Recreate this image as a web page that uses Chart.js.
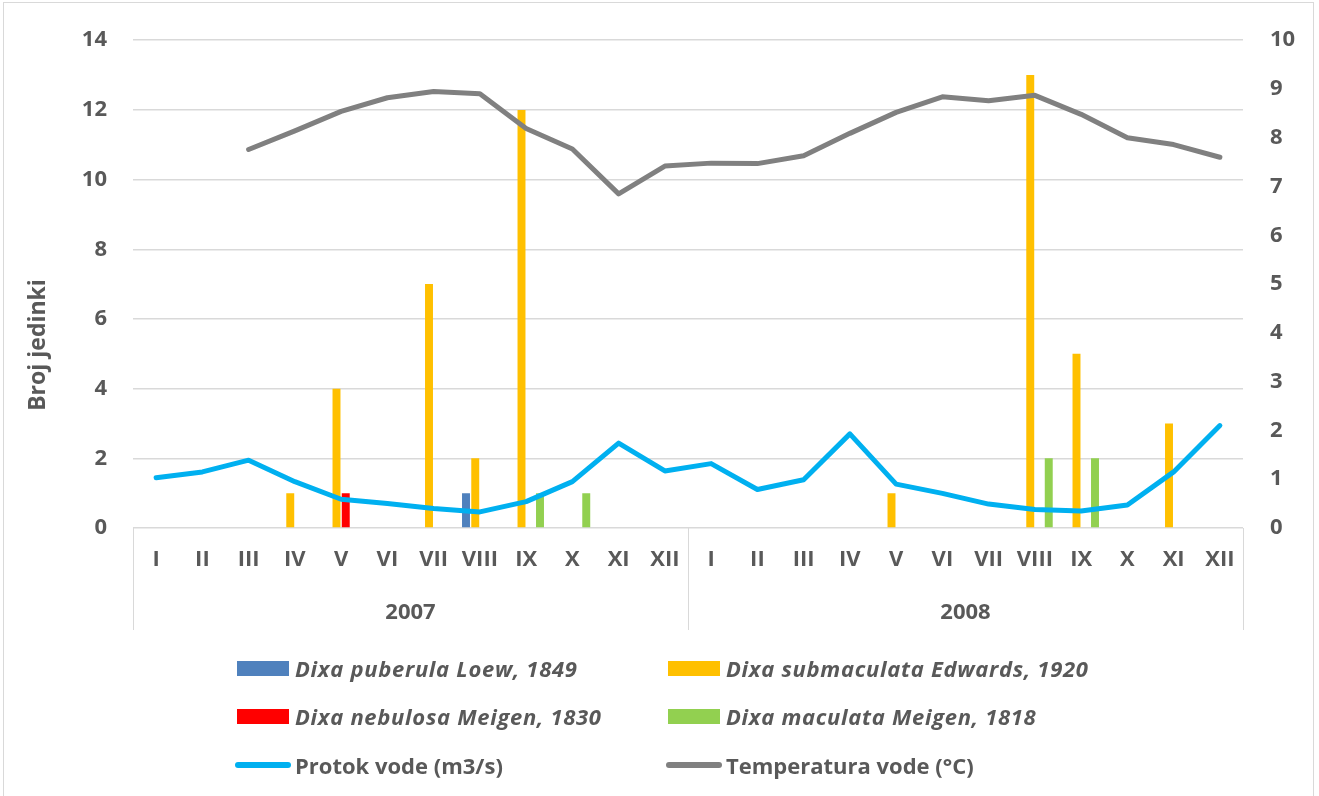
<!DOCTYPE html>
<html>
<head>
<meta charset="utf-8">
<script src="https://cdn.jsdelivr.net/npm/chart.js@4.4.1/dist/chart.umd.min.js"></script>
<style>
    body { margin: 0; background: #fff; }
    #wrap { position: relative; width: 1319px; height: 796px; font-family: 'Open Sans', sans-serif; overflow: hidden; }
    #frame { position: absolute; left: 3px; top: 2px; width: 1309px; height: 800px; border: 1px solid #d9d9d9; pointer-events: none; }
    canvas { position: absolute; left: 0; top: 0; }
    .leg { position: absolute; display: flex; align-items: center; color: #595959; font-weight: bold; font-size: 22px; white-space: nowrap; height: 30px; }
    .leg i { font-style: italic; letter-spacing: 0.7px; }
    .sw { width: 52px; height: 15px; margin-right: 6px; }
    .ln { width: 56px; height: 6px; border-radius: 3px; margin-right: 4px; }
</style>
</head>
<body>
<div id="wrap">
    <canvas id="chartDixa" width="1319" height="796"></canvas>
    <div id="frame"></div>
    <div id="legenda"></div>
</div>
<script>
// Podaci očitani s grafikona
const mjeseci = ['I', 'II', 'III', 'IV', 'V', 'VI', 'VII', 'VIII', 'IX', 'X', 'XI', 'XII',
                 'I', 'II', 'III', 'IV', 'V', 'VI', 'VII', 'VIII', 'IX', 'X', 'XI', 'XII'];
const godine = ['2007', '2008'];

const puberula    = [0, 0, 0, 0, 0, 0, 0, 1, 0, 0, 0, 0,   0, 0, 0, 0, 0, 0, 0, 0, 0, 0, 0, 0];
const submaculata = [0, 0, 0, 1, 4, 0, 7, 2, 12, 0, 0, 0,  0, 0, 0, 0, 1, 0, 0, 13, 5, 0, 3, 0];
const nebulosa    = [0, 0, 0, 0, 1, 0, 0, 0, 0, 0, 0, 0,   0, 0, 0, 0, 0, 0, 0, 0, 0, 0, 0, 0];
const maculata    = [0, 0, 0, 0, 0, 0, 0, 0, 1, 1, 0, 0,   0, 0, 0, 0, 0, 0, 0, 2, 2, 0, 0, 0];

const protok = [1.03, 1.15, 1.39, 0.95, 0.59, 0.50, 0.40, 0.33, 0.54, 0.95, 1.74, 1.17,
                1.32, 0.79, 0.99, 1.93, 0.90, 0.71, 0.49, 0.38, 0.35, 0.47, 1.15, 2.10];
const temperatura = [null, null, 7.76, 8.14, 8.54, 8.82, 8.95, 8.90, 8.19, 7.77, 6.85, 7.42,
                     7.48, 7.47, 7.63, 8.09, 8.52, 8.84, 8.76, 8.87, 8.48, 8.00, 7.86, 7.60];

const lijeviTicks = [0, 2, 4, 6, 8, 10, 12, 14];
const desniTicks = [0, 1, 2, 3, 4, 5, 6, 7, 8, 9, 10];

const SIVA = '#595959';
const font = { family: 'Open Sans', size: 22, weight: 'bold' };

const serije = [
    { label: 'Dixa puberula Loew, 1849', data: puberula, color: '#4F81BD' },
    { label: 'Dixa submaculata Edwards, 1920', data: submaculata, color: '#FFC000' },
    { label: 'Dixa nebulosa Meigen, 1830', data: nebulosa, color: '#FF0000' },
    { label: 'Dixa maculata Meigen, 1818', data: maculata, color: '#92D050' }
];

// godine, razdjelnici ispod osi x i naslov lijeve osi
const godinePlugin = {
    id: 'godine',
    afterDraw(chart) {
        const ctx = chart.ctx;
        const x = chart.scales.x;
        const top = chart.chartArea.bottom;
        const bottom = top + 102;
        const xs = [x.left, (x.left + x.right) / 2, x.right];
        ctx.save();
        ctx.strokeStyle = '#d9d9d9';
        ctx.lineWidth = 1;
        xs.forEach(px => {
            ctx.beginPath();
            ctx.moveTo(Math.round(px) + 0.5, top);
            ctx.lineTo(Math.round(px) + 0.5, bottom);
            ctx.stroke();
        });
        ctx.fillStyle = SIVA;
        ctx.font = 'bold 22px "Open Sans"';
        ctx.textAlign = 'center';
        ctx.textBaseline = 'middle';
        godine.forEach((g, i) => {
            const a = x.getPixelForValue(i * 12);
            const b = x.getPixelForValue(i * 12 + 11);
            ctx.fillText(g, (a + b) / 2, top + 85);
        });
        // naslov osi y (Excel ga centrira niže od sredine plohe)
        ctx.translate(38, 345);
        ctx.rotate(-Math.PI / 2);
        ctx.font = 'bold 23px "Open Sans"';
        ctx.fillText('Broj jedinki', 0, 0);
        ctx.restore();
    }
};

const datasets = serije.map(s => ({
    type: 'bar',
    label: s.label,
    data: s.data,
    backgroundColor: s.color,
    yAxisID: 'y',
    order: 2,
    categoryPercentage: 0.8,
    barPercentage: 0.86
}));

datasets.push({
    type: 'line',
    label: 'Protok vode (m3/s)',
    data: protok,
    borderColor: '#00B0F0',
    borderWidth: 5,
    pointRadius: 0,
    borderCapStyle: 'round',
    borderJoinStyle: 'round',
    yAxisID: 'y1',
    order: 0
});
datasets.push({
    type: 'line',
    label: 'Temperatura vode (°C)',
    data: temperatura,
    borderColor: '#808080',
    borderWidth: 5,
    pointRadius: 0,
    borderCapStyle: 'round',
    borderJoinStyle: 'round',
    yAxisID: 'y1',
    order: 1
});

new Chart(document.getElementById('chartDixa'), {
    type: 'bar',
    data: { labels: mjeseci, datasets: datasets },
    options: {
        responsive: false,
        animation: false,
        layout: { padding: { top: 38, left: 0, right: 0, bottom: 0 } },
        plugins: {
            legend: { display: false },
            tooltip: { enabled: false }
        },
        scales: {
            x: {
                grid: { display: false, drawTicks: false },
                border: { display: false },
                ticks: { color: SIVA, font: font, padding: 19, autoSkip: false, maxRotation: 0 },
                afterFit: s => { s.height = 268; }
            },
            y: {
                position: 'left',
                min: 0,
                max: 14,
                afterBuildTicks: s => { s.ticks = lijeviTicks.map(v => ({ value: v })); },
                grid: { color: '#d9d9d9', lineWidth: 1.5, drawTicks: false },
                border: { display: false },
                ticks: { color: SIVA, font: font, padding: 26 },
                afterFit: s => { s.width = 133; }
            },
            y1: {
                position: 'right',
                min: 0,
                max: 10,
                afterBuildTicks: s => { s.ticks = desniTicks.map(v => ({ value: v })); },
                grid: { display: false, drawTicks: false },
                border: { display: false },
                ticks: { color: SIVA, font: font, padding: 27 },
                afterFit: s => { s.width = 76; }
            }
        }
    },
    plugins: [godinePlugin]
});

// legenda u dva stupca
const legenda = document.getElementById('legenda');
const stavke = [
    { x: 237, y: 668, tekst: serije[0].label, boja: serije[0].color, linija: false },
    { x: 668, y: 668, tekst: serije[1].label, boja: serije[1].color, linija: false },
    { x: 237, y: 716, tekst: serije[2].label, boja: serije[2].color, linija: false },
    { x: 668, y: 716, tekst: serije[3].label, boja: serije[3].color, linija: false },
    { x: 235, y: 765, tekst: 'Protok vode (m3/s)', boja: '#00B0F0', linija: true },
    { x: 666, y: 765, tekst: 'Temperatura vode (°C)', boja: '#808080', linija: true }
];
stavke.forEach(s => {
    const d = document.createElement('div');
    d.className = 'leg';
    d.style.left = s.x + 'px';
    d.style.top = (s.y - 15) + 'px';
    d.innerHTML = `<span class="${s.linija ? 'ln' : 'sw'}" style="background:${s.boja}"></span>` +
        (s.linija ? `<span>${s.tekst}</span>` : `<i>${s.tekst}</i>`);
    legenda.appendChild(d);
});
</script>
</body>
</html>
